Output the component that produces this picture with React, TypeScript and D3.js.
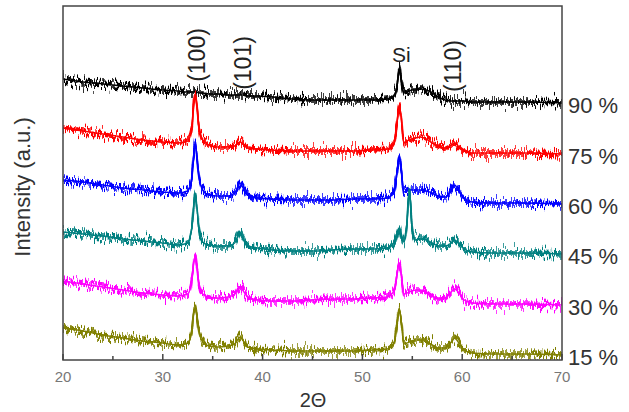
import React from 'react';
import * as d3 from 'd3';

// --- data (2θ in degrees, stacked intensity in a.u.) ---
const twoTheta = [
  20, 22, 24, 26, 28, 30, 31.5, 32.5, 32.9, 33.1, 33.25, 33.4, 33.6, 34.0, 34.6,
  35.5, 36.5, 37.2, 37.55, 37.75, 38.0, 38.5, 39.5, 41, 43, 45, 47, 49, 51,
  52.5, 53.2, 53.5, 53.7, 53.9, 54.15, 54.45, 54.7, 54.95, 55.3, 55.8, 56.4, 57.0,
  57.6, 58.3, 58.9, 59.25, 59.6, 60.2, 61, 63, 66, 70,
];

const pct90 = [
  281, 278, 276, 274, 272, 270, 269, 268, 268, 268, 268, 268, 267, 267, 266,
  266, 265, 265, 265, 265, 265, 264, 264, 263, 261, 260, 260, 260, 260,
  261, 265, 276, 292, 280, 267, 268, 269, 270, 270, 271, 270, 267,
  263, 260, 259, 259, 259, 259, 258, 258, 258, 257,
];
const pct75 = [
  232, 229, 226, 223, 220, 218, 217, 219, 232, 257, 266, 256, 235, 220, 215,
  213, 213, 214, 217, 218, 216, 212, 211, 210, 209, 209, 209, 209, 210,
  211, 218, 240, 253, 242, 217, 219, 220, 221, 222, 223, 221, 217,
  214, 212, 215, 217, 214, 209, 207, 207, 207, 206,
];
const pct60 = [
  180, 178, 175, 172, 170, 168, 167, 169, 182, 205, 216, 205, 185, 170, 165,
  164, 164, 167, 174, 177, 173, 165, 162, 161, 160, 160, 160, 161, 161,
  162, 170, 190, 204, 190, 168, 169, 170, 170, 170, 170, 169, 167,
  164, 163, 170, 175, 170, 161, 158, 157, 157, 156,
];
const pct45 = [
  128, 126, 124, 121, 119, 117, 115, 117, 132, 155, 166, 155, 133, 118, 115,
  114, 114, 117, 124, 127, 123, 114, 112, 110, 109, 109, 110, 111, 111,
  112, 118, 128, 132, 124, 118, 135, 170, 135, 120, 121, 120, 117,
  114, 114, 117, 120, 117, 111, 108, 107, 107, 106,
];
const pct30 = [
  79, 76, 73, 70, 67, 65, 64, 66, 80, 98, 103, 94, 78, 66, 63,
  62, 63, 66, 72, 73, 70, 63, 60, 59, 59, 60, 61, 61, 62,
  63, 70, 88, 97, 85, 66, 67, 68, 69, 70, 70, 68, 64,
  61, 62, 68, 71, 68, 60, 57, 56, 56, 55,
];
const pct15 = [
  32, 29, 25, 22, 19, 17, 15, 17, 28, 47, 53, 45, 30, 18, 14,
  13, 14, 16, 21, 23, 20, 13, 11, 10, 9, 9, 9, 9, 10,
  11, 18, 38, 51, 38, 16, 17, 18, 19, 20, 20, 18, 15,
  12, 12, 18, 22, 18, 10, 7, 6, 6, 5,
];

const seriesNames = ['90 %', '75 %', '60 %', '45 %', '30 %', '15 %'];
const seriesValues = [pct90, pct75, pct60, pct45, pct30, pct15];
const seriesColors = ['#000000', '#ff0000', '#0000ff', '#008080', '#ff00ff', '#808000'];

const xTicks = [20, 30, 40, 50, 60, 70];
const xMinorTicks = [25, 35, 45, 55, 65];

// peak annotations: 2θ position, label and vertical centre of the text
const peakLabels = [
  { text: '(100)', at: 33.4, mid: 55, rotate: true },
  { text: '(101)', at: 38.0, mid: 63, rotate: true },
  { text: 'Si', at: 53.9, mid: 62, rotate: false },
  { text: '(110)', at: 59.1, mid: 66, rotate: true },
];

// --- layout ---
const W = 629, H = 412;
const plot = { left: 63, right: 562, top: 6, bottom: 360 };
const FONT = "Arial, 'Liberation Sans', sans-serif";

// keeps R at 0.5 so the jitter is vertical only
const KEEP_X = "0 0 0 0 0.5  0 1 0 0 0  0 0 1 0 0  0 0 0 0 1";

export default function App() {
  const x = d3.scaleLinear().domain([20, 70]).range([plot.left, plot.right]);
  const y = d3.scaleLinear().domain([0, 354]).range([plot.bottom, plot.top]);

  const line = d3.line<number>()
    .x((_, i) => x(twoTheta[i]))
    .y(d => y(d))
    .curve(d3.curveMonotoneX);

  return (
    <svg width={W} height={H} viewBox={`0 0 ${W} ${H}`}
      style={{ position: 'absolute', left: 0, top: 0, display: 'block', background: '#fff' }}>
      <defs>
        <clipPath id="plotClip">
          <rect x={plot.left} y={plot.top} width={plot.right - plot.left} height={plot.bottom - plot.top} />
        </clipPath>
        {/* detector-noise texture on the stroke */}
        {seriesColors.map((_, i) => (
          <filter key={i} id={`noise${i}`} filterUnits="userSpaceOnUse" x={0} y={0} width={W} height={H}
            colorInterpolationFilters="sRGB">
            <feTurbulence type="fractalNoise" baseFrequency="1.1 0.04" numOctaves={2} seed={i * 7 + 3} result="t1" />
            <feColorMatrix in="t1" type="matrix" values={KEEP_X} result="m1" />
            <feDisplacementMap in="SourceGraphic" in2="m1" scale={26} xChannelSelector="R" yChannelSelector="G" result="d1" />
            <feTurbulence type="fractalNoise" baseFrequency="0.7 0.04" numOctaves={1} seed={i * 11 + 5} result="t2" />
            <feColorMatrix in="t2" type="matrix" values={KEEP_X} result="m2" />
            <feDisplacementMap in="SourceGraphic" in2="m2" scale={20} xChannelSelector="R" yChannelSelector="G" result="d2" />
            <feMerge result="jit">
              <feMergeNode in="d1" />
              <feMergeNode in="d2" />
            </feMerge>
            <feMorphology in="jit" operator="dilate" radius="0 1" result="band" />
            <feMerge>
              <feMergeNode in="band" />
              <feMergeNode in="SourceGraphic" />
            </feMerge>
          </filter>
        ))}
      </defs>

      {/* traces */}
      <g clipPath="url(#plotClip)">
        {seriesValues.map((vals, i) => (
          <path key={seriesNames[i]} d={line(vals) || ''} fill="none"
            stroke={seriesColors[i]} strokeWidth={1.5} filter={`url(#noise${i})`} />
        ))}
      </g>

      {/* frame */}
      <rect x={plot.left} y={plot.top} width={plot.right - plot.left} height={plot.bottom - plot.top}
        fill="none" stroke="#444" strokeWidth={1.5} />
      {xTicks.map(t => (
        <line key={'M' + t} x1={x(t)} x2={x(t)} y1={plot.bottom} y2={plot.bottom - 6} stroke="#444" strokeWidth={1.5} />
      ))}
      {xMinorTicks.map(t => (
        <line key={'m' + t} x1={x(t)} x2={x(t)} y1={plot.bottom} y2={plot.bottom - 4} stroke="#444" strokeWidth={1.5} />
      ))}
      {xTicks.map(t => (
        <text key={'L' + t} x={x(t)} y={382} textAnchor="middle" fontFamily={FONT} fontSize={15} fill="#777">{t}</text>
      ))}

      {/* axis titles */}
      <text x={313} y={407} textAnchor="middle" fontFamily={FONT} fontSize={20} fill="#333">2Θ</text>
      <text transform="translate(30,187) rotate(-90)" textAnchor="middle" fontFamily={FONT} fontSize={22} fill="#333">
        Intensity (a.u.)
      </text>

      {/* series labels on the right */}
      {seriesValues.map((vals, i) => (
        <text key={'s' + i} x={568} y={y(vals[vals.length - 1]) + 10} fontFamily={FONT} fontSize={22} fill="#333">
          {seriesNames[i]}
        </text>
      ))}

      {/* peak labels */}
      {peakLabels.map(p => p.rotate ? (
        <text key={p.text} transform={`translate(${x(p.at)},${p.mid}) rotate(-90)`} dy="0.35em"
          textAnchor="middle" fontFamily={FONT} fontSize={23} fill="#222">{p.text}</text>
      ) : (
        <text key={p.text} x={x(p.at)} y={p.mid} textAnchor="middle" fontFamily={FONT} fontSize={21} fill="#222">{p.text}</text>
      ))}
    </svg>
  );
}
